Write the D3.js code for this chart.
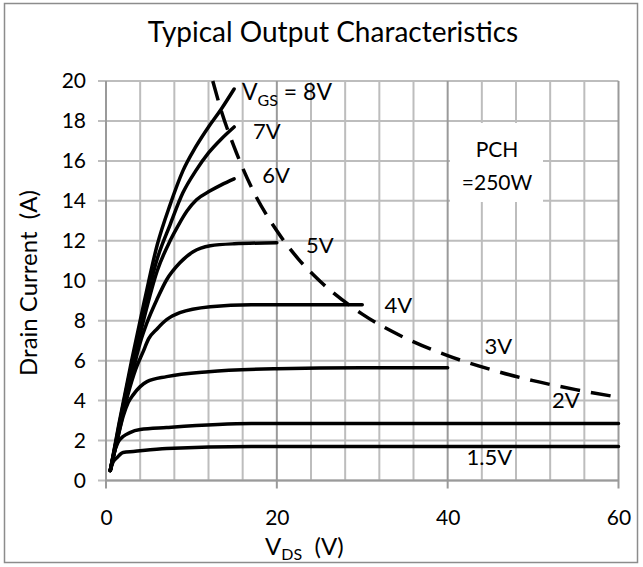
<!DOCTYPE html>
<html><head><meta charset="utf-8">
<script src="https://cdn.jsdelivr.net/npm/d3@7/dist/d3.min.js"></script>
<style>body{margin:0;background:#fff}svg{display:block}text{font-family:Lato,"Open Sans",sans-serif;fill:#000}</style>
</head><body><svg id="c" width="643" height="567"></svg>
<script>
const xTicks=[0,20,40,60];
const yTicks=[0,2,4,6,8,10,12,14,16,18,20];
const xMinor=[4,8,12,16,24,28,32,36,44,48,52,56];
const s8=[[0.5,0.5],[1.5,2.8],[3,6],[4.5,9],[6,11.8],[7.5,13.8],[9,15.5],[10.5,16.7],[12,17.7],[13.5,18.6],[15,19.6]];
const s7=[[0.5,0.5],[1.5,2.7],[3,5.8],[4.5,8.6],[6,11.1],[7.5,12.8],[9,14.4],[10.5,15.5],[12,16.4],[13.5,17.1],[15,17.7]];
const s6=[[0.5,0.5],[1.5,2.6],[3,5.5],[4.5,8.2],[6,10.5],[7.5,12.0],[8.5,12.8],[9.5,13.5],[10.6,14.05],[12.2,14.5],[13.5,14.8],[15,15.1]];
const s5=[[0.5,0.5],[1.5,2.5],[3,5.2],[4,6.9],[4.8,7.9],[5.95,9.05],[7.1,10.05],[8.65,10.9],[10.2,11.45],[12.2,11.75],[15,11.85],[20,11.9]];
const s4=[[0.5,0.5],[1.5,2.4],[2.5,4.2],[3.5,5.6],[4.3,6.4],[5,7.1],[6,7.6],[7.1,8.05],[8.65,8.4],[12.2,8.7],[17,8.8],[30,8.8]];
const s3=[[0.5,0.5],[1.2,1.8],[2,3.2],[2.6,3.9],[3.2,4.3],[4,4.7],[4.8,4.95],[7.1,5.2],[12,5.45],[20,5.6],[30,5.65],[40,5.65]];
const s2=[[0.5,0.5],[0.9,1.3],[1.4,1.9],[2,2.2],[2.8,2.4],[4,2.55],[7.1,2.65],[17,2.85],[30,2.85],[60,2.85]];
const s15=[[0.5,0.5],[0.8,0.9],[1.3,1.15],[2,1.4],[3.2,1.45],[7.1,1.6],[17,1.7],[30,1.7],[60,1.7]];
const pch=[[12.5,20],[13.5,18.5],[15,16.7],[17,14.7],[20,12.5],[22.5,11.1],[25,10],[30,8.33],[35,7.14],[40,6.25],[45,5.56],[50,5.0],[55,4.55],[60,4.17]];
const series=[s8,s7,s6,s5,s4,s3,s2,s15];
const labels=[
 {t:"7V",v:17.2,i:17.1},{t:"6V",v:18.3,i:14.9},{t:"5V",v:23.4,i:11.4},{t:"4V",v:32.6,i:8.4},
 {t:"3V",v:44.3,i:6.35},{t:"2V",v:52.2,i:3.65},{t:"1.5V",v:42.2,i:0.8}];

const svg=d3.select("#c");
const x=d3.scaleLinear().domain([0,60]).range([106,618.5]);
const y=d3.scaleLinear().domain([0,20]).range([480.5,81]);

svg.append("rect").attr("x",4.5).attr("y",3.5).attr("width",633).attr("height",559).attr("fill","#fff").attr("stroke","#8c8c8c").attr("stroke-width",1.5);

const g=svg.append("g");
g.selectAll(".vm").data(xMinor).join("line").attr("x1",d=>x(d)).attr("x2",d=>x(d)).attr("y1",y(20)).attr("y2",y(0)).attr("stroke","#bdbdbd").attr("stroke-width",2);
g.selectAll(".hg").data(yTicks).join("line").attr("x1",x(0)-8).attr("x2",x(60)).attr("y1",d=>y(d)).attr("y2",d=>y(d)).attr("stroke","#bdbdbd").attr("stroke-width",2);
g.selectAll(".vM").data(xTicks).join("line").attr("x1",d=>x(d)).attr("x2",d=>x(d)).attr("y1",y(20)).attr("y2",y(0)+8).attr("stroke","#9a9a9a").attr("stroke-width",2);
g.append("line").attr("x1",x(0)).attr("x2",x(60)).attr("y1",y(0)).attr("y2",y(0)).attr("stroke","#9a9a9a").attr("stroke-width",2);

const xa=svg.append("g").attr("transform",`translate(0,${y(0)})`).call(d3.axisBottom(x).tickValues(xTicks).tickSize(0).tickPadding(30));
xa.select(".domain").remove();
xa.selectAll("text").attr("font-size",21).attr("font-family","Lato");
const ya=svg.append("g").attr("transform",`translate(${x(0)},0)`).call(d3.axisLeft(y).tickValues(yTicks).tickSize(0).tickPadding(20));
ya.select(".domain").remove();
ya.selectAll("text").attr("font-size",21).attr("font-family","Lato");

svg.append("rect").attr("x",450).attr("y",123).attr("width",93).attr("height",79).attr("fill","#fff");
svg.append("text").attr("x",497).attr("y",157).attr("text-anchor","middle").attr("font-size",21).text("PCH");
svg.append("text").attr("x",497).attr("y",190).attr("text-anchor","middle").attr("font-size",21).text("=250W");

const line=d3.line().x(d=>x(d[0])).y(d=>y(d[1])).curve(d3.curveMonotoneX);
svg.selectAll(".s").data(series).join("path").attr("d",line).attr("fill","none").attr("stroke","#000").attr("stroke-width",3.5).attr("stroke-linecap","round");
svg.append("path").attr("d",line(pch)).attr("fill","none").attr("stroke","#000").attr("stroke-width",3.5).attr("stroke-dasharray","20,11");

const vg=svg.append("text").attr("x",242).attr("y",100).attr("font-size",23);
vg.append("tspan").text("V");
vg.append("tspan").attr("font-size",16).attr("dy",6).text("GS");
vg.append("tspan").attr("dy",-6).text(" = 8V");
svg.selectAll(".lb").data(labels).join("text").attr("x",d=>x(d.v)).attr("y",d=>y(d.i)).attr("font-size",22).text(d=>d.t);

svg.append("text").attr("x",333).attr("y",42).attr("text-anchor","middle").attr("font-size",28).text("Typical Output Characteristics");
const xt=svg.append("text").attr("x",265).attr("y",555).attr("font-size",24);
xt.append("tspan").text("V");
xt.append("tspan").attr("font-size",16).attr("dy",5).text("DS");
xt.append("tspan").attr("dy",-5).attr("xml:space","preserve").text("\u00a0\u00a0(V)");
svg.append("text").attr("transform","translate(37,283) rotate(-90)").attr("text-anchor","middle").attr("font-size",24).attr("xml:space","preserve").text("Drain Current\u00a0\u00a0(A)");
</script></body></html>
